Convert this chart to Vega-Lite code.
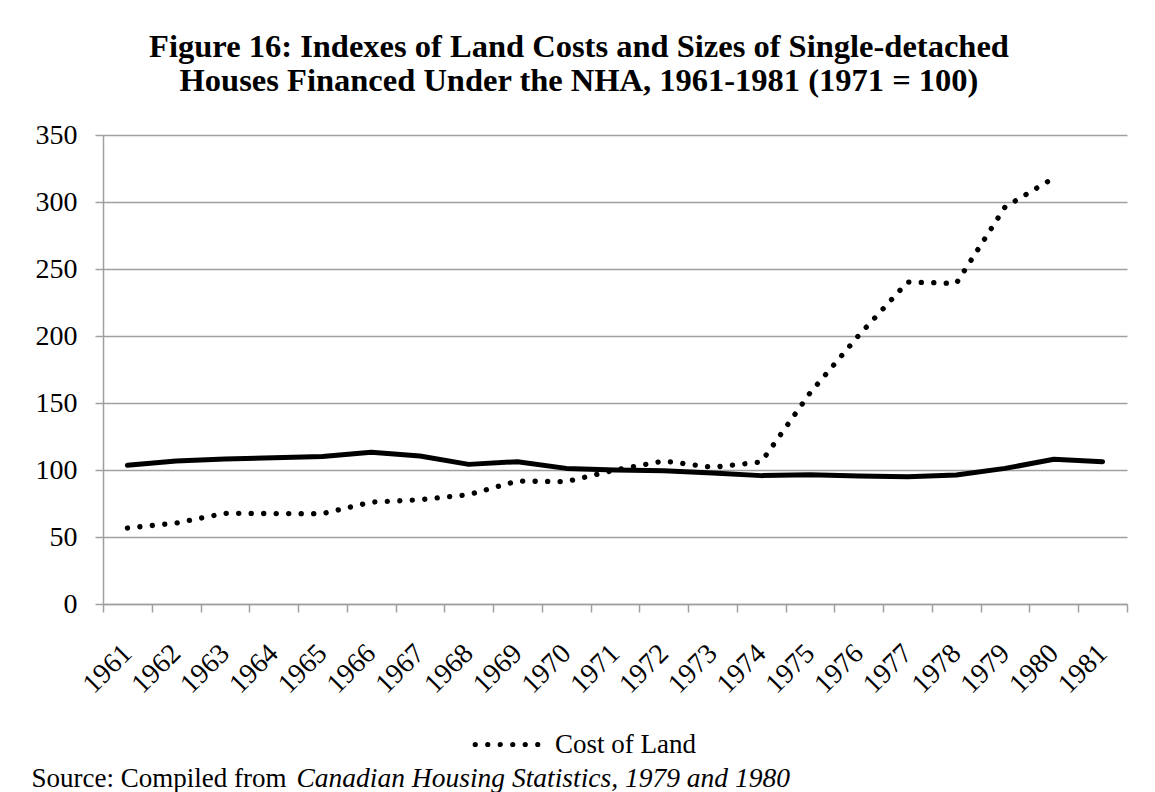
{
  "$schema": "https://vega.github.io/schema/vega-lite/v6.json",
  "autosize": {"type": "none"},
  "width": 1024,
  "height": 469,
  "padding": {"left": 103, "top": 135, "right": 28, "bottom": 188},
  "background": "white",
  "title": {
    "text": ["Figure 16: Indexes of Land Costs and Sizes of Single-detached", "Houses Financed Under the NHA, 1961-1981 (1971 = 100)"],
    "font": "Liberation Serif",
    "fontSize": 32.5,
    "fontWeight": "bold",
    "color": "black",
    "anchor": "middle",
    "dx": -36,
    "offset": 24,
    "lineHeight": 34
  },
  "data": {
    "values": [
      {"year": "1961", "series": "Size of House", "index": 103.5},
      {"year": "1962", "series": "Size of House", "index": 106.7},
      {"year": "1963", "series": "Size of House", "index": 108.2},
      {"year": "1964", "series": "Size of House", "index": 109.2},
      {"year": "1965", "series": "Size of House", "index": 110.0},
      {"year": "1966", "series": "Size of House", "index": 113.2},
      {"year": "1967", "series": "Size of House", "index": 110.4},
      {"year": "1968", "series": "Size of House", "index": 104.2},
      {"year": "1969", "series": "Size of House", "index": 106.2},
      {"year": "1970", "series": "Size of House", "index": 101.2},
      {"year": "1971", "series": "Size of House", "index": 100.0},
      {"year": "1972", "series": "Size of House", "index": 99.5},
      {"year": "1973", "series": "Size of House", "index": 97.8},
      {"year": "1974", "series": "Size of House", "index": 95.8},
      {"year": "1975", "series": "Size of House", "index": 96.5},
      {"year": "1976", "series": "Size of House", "index": 95.5},
      {"year": "1977", "series": "Size of House", "index": 95.0},
      {"year": "1978", "series": "Size of House", "index": 96.3},
      {"year": "1979", "series": "Size of House", "index": 101.2},
      {"year": "1980", "series": "Size of House", "index": 108.0},
      {"year": "1981", "series": "Size of House", "index": 106.2},
      {"year": "1961", "series": "Cost of Land", "index": 56.7},
      {"year": "1962", "series": "Cost of Land", "index": 60.4},
      {"year": "1963", "series": "Cost of Land", "index": 67.7},
      {"year": "1964", "series": "Cost of Land", "index": 67.5},
      {"year": "1965", "series": "Cost of Land", "index": 67.4},
      {"year": "1966", "series": "Cost of Land", "index": 76.0},
      {"year": "1967", "series": "Cost of Land", "index": 77.8},
      {"year": "1968", "series": "Cost of Land", "index": 81.6},
      {"year": "1969", "series": "Cost of Land", "index": 91.8},
      {"year": "1970", "series": "Cost of Land", "index": 91.3},
      {"year": "1971", "series": "Cost of Land", "index": 100.0},
      {"year": "1972", "series": "Cost of Land", "index": 106.7},
      {"year": "1973", "series": "Cost of Land", "index": 102.0},
      {"year": "1974", "series": "Cost of Land", "index": 106.0},
      {"year": "1975", "series": "Cost of Land", "index": 157.5},
      {"year": "1976", "series": "Cost of Land", "index": 200.5},
      {"year": "1977", "series": "Cost of Land", "index": 240.3},
      {"year": "1978", "series": "Cost of Land", "index": 239.3},
      {"year": "1979", "series": "Cost of Land", "index": 296.3},
      {"year": "1980", "series": "Cost of Land", "index": 318.0}
    ]
  },
  "encoding": {
    "x": {
      "field": "year",
      "type": "ordinal",
      "bandPosition": 0.5,
      "scale": {"type": "band", "paddingInner": 0, "paddingOuter": 0},
      "axis": {
        "title": "Source: Compiled from",
        "titleX": -72,
        "titleY": 182,
        "titleAlign": "left",
        "titleBaseline": "alphabetic",
        "titleAngle": 0,
        "titleFont": "Liberation Serif",
        "titleFontSize": 27,
        "titleFontWeight": "normal",
        "titleColor": "black",
        "labelAngle": -45,
        "labelFont": "Liberation Serif",
        "labelFontSize": 28,
        "labelColor": "black",
        "labelPadding": 27,
        "labelOffset": -10,
        "tickBand": "extent",
        "tickSize": 8,
        "tickColor": "#a0a0a0",
        "tickWidth": 1.5,
        "domainColor": "#a0a0a0",
        "domainWidth": 1.5,
        "grid": false
      }
    },
    "y": {
      "field": "index",
      "type": "quantitative",
      "scale": {"domain": [0, 350], "nice": false, "zero": true},
      "axis": {
        "values": [0, 50, 100, 150, 200, 250, 300, 350],
        "title": "Canadian Housing Statistics, 1979 and 1980",
        "titleX": 193,
        "titleY": 651,
        "titleAlign": "left",
        "titleBaseline": "alphabetic",
        "titleAngle": 0,
        "titleFont": "Liberation Serif",
        "titleFontSize": 27.5,
        "titleFontWeight": "normal",
        "titleFontStyle": "italic",
        "titleColor": "black",
        "labelFont": "Liberation Serif",
        "labelFontSize": 28,
        "labelColor": "black",
        "labelPadding": 18,
        "tickSize": 8,
        "tickColor": "#a0a0a0",
        "tickWidth": 1.5,
        "domainColor": "#a0a0a0",
        "domainWidth": 1.5,
        "grid": true,
        "gridColor": "#a0a0a0",
        "gridWidth": 1.5
      }
    }
  },
  "layer": [
    {
      "transform": [{"filter": "datum.series === 'Size of House'"}],
      "mark": {"type": "line", "color": "black", "strokeWidth": 5, "strokeCap": "round", "strokeJoin": "round"}
    },
    {
      "transform": [{"filter": "datum.series === 'Cost of Land'"}],
      "mark": {"type": "line", "strokeWidth": 5.3, "strokeCap": "round", "strokeJoin": "round", "strokeDash": [0.1, 12.4]},
      "encoding": {
        "color": {
          "field": "series",
          "type": "nominal",
          "scale": {"domain": ["Cost of Land"], "range": ["black"]},
          "legend": {
            "title": null,
            "orient": "none",
            "legendX": 369,
            "legendY": 575,
            "symbolType": "M-0.987,0a0.04,0.04 0 1,0 0.08,0a0.04,0.04 0 1,0 -0.08,0Z M-0.608,0a0.04,0.04 0 1,0 0.08,0a0.04,0.04 0 1,0 -0.08,0Z M-0.229,0a0.04,0.04 0 1,0 0.08,0a0.04,0.04 0 1,0 -0.08,0Z M0.149,0a0.04,0.04 0 1,0 0.08,0a0.04,0.04 0 1,0 -0.08,0Z M0.528,0a0.04,0.04 0 1,0 0.08,0a0.04,0.04 0 1,0 -0.08,0Z M0.907,0a0.04,0.04 0 1,0 0.08,0a0.04,0.04 0 1,0 -0.08,0Z",
            "symbolSize": 4356,
            "symbolStrokeWidth": 2.6,
            "symbolStrokeColor": "black",
            "symbolFillColor": "black",
            "labelFont": "Liberation Serif",
            "labelFontSize": 27,
            "labelColor": "black",
            "labelOffset": 14,
            "labelLimit": 400
          }
        }
      }
    }
  ],
  "config": {
    "view": {"stroke": null}
  }
}
